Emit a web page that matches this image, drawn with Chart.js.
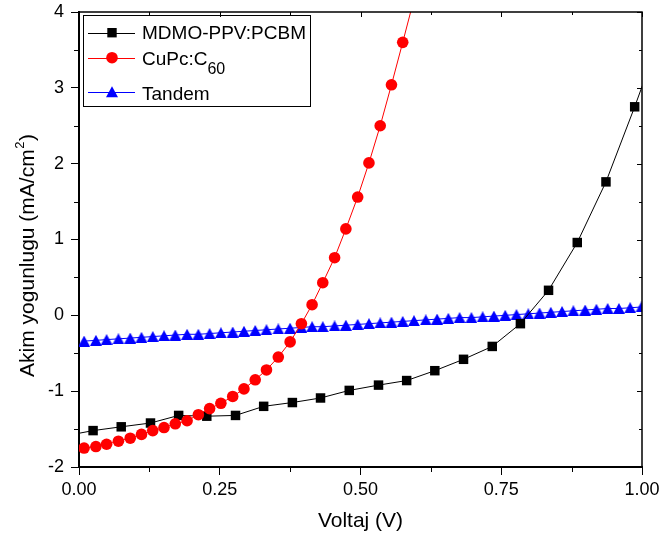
<!DOCTYPE html>
<html>
<head>
	<title>J-V</title>
	<meta charset="utf-8">
<style type="text/css">
	body{ margin:0; background:#fff; }
	#wrap{ width:660px; height:543px; position:relative; }
</style>
</head>
<body>
<div id="wrap">
	<canvas id="jv"></canvas>
</div>

<script src="https://cdn.jsdelivr.net/npm/chart.js@4/dist/chart.umd.min.js"></script>
<script type="text/javascript">

// MDMO-PPV:PCBM (squares); first and last points lie just outside the frame
var vMdmo = [-0.025, 0.025, 0.075, 0.127, 0.177, 0.227, 0.278, 0.328, 0.379, 0.429, 0.480,
             0.532, 0.582, 0.632, 0.683, 0.734, 0.784, 0.834, 0.885, 0.936, 0.987, 1.037];
var jMdmo = [-1.59, -1.52, -1.47, -1.42, -1.32, -1.33, -1.32, -1.20, -1.15, -1.09, -0.99,
             -0.92, -0.86, -0.73, -0.58, -0.41, -0.11, 0.33, 0.96, 1.76, 2.75, 3.77];

// CuPc:C60 (circles)
var vCupc = [0.009, 0.030, 0.049, 0.070, 0.091, 0.111, 0.131, 0.151, 0.171, 0.192,
             0.212, 0.232, 0.252, 0.273, 0.293, 0.313, 0.333, 0.354, 0.375, 0.395,
             0.414, 0.433, 0.454, 0.474, 0.495, 0.515, 0.535, 0.555, 0.575, 0.595];
var jCupc = [-1.75, -1.73, -1.70, -1.66, -1.62, -1.57, -1.52, -1.48, -1.43, -1.39,
             -1.31, -1.23, -1.16, -1.07, -0.97, -0.85, -0.72, -0.55, -0.35, -0.11,
             0.14, 0.43, 0.76, 1.14, 1.56, 2.01, 2.50, 3.04, 3.60, 4.17];

// Tandem (triangles)
var vTandem = [0.009, 0.030, 0.049, 0.070, 0.091, 0.111, 0.131, 0.151, 0.171, 0.192,
               0.212, 0.232, 0.252, 0.273, 0.293, 0.313, 0.333, 0.354, 0.375, 0.395,
               0.414, 0.433, 0.454, 0.474, 0.495, 0.515, 0.535, 0.555, 0.575, 0.595,
               0.616, 0.636, 0.656, 0.676, 0.697, 0.717, 0.737, 0.757, 0.777, 0.798,
               0.818, 0.838, 0.858, 0.878, 0.899, 0.919, 0.939, 0.959, 0.979, 0.999];
var jTandem = [-0.34, -0.33, -0.32, -0.31, -0.30, -0.29, -0.28, -0.27, -0.26, -0.25,
               -0.25, -0.24, -0.23, -0.22, -0.21, -0.20, -0.19, -0.18, -0.17, -0.16,
               -0.15, -0.15, -0.14, -0.13, -0.12, -0.11, -0.10, -0.09, -0.08, -0.07,
               -0.06, -0.05, -0.04, -0.03, -0.03, -0.02, -0.01, 0.00, 0.01, 0.02,
               0.03, 0.04, 0.05, 0.06, 0.07, 0.08, 0.09, 0.09, 0.10, 0.11];

var xTicks = [0, 0.25, 0.5, 0.75, 1];
var yTicks = [-2, -1, 0, 1, 2, 3, 4];

var FONT = "Arial, 'Liberation Sans', sans-serif";

function pts(xs, ys){
	var out = [];
	for (var i = 0; i < xs.length; i++) out.push({x: xs[i], y: ys[i]});
	return out;
}

// Origin style triangle, centred on its box
function triImg(w, h, color){
	var c = document.createElement('canvas');
	c.width = w; c.height = h;
	var g = c.getContext('2d');
	g.fillStyle = color;
	g.beginPath();
	g.moveTo(w / 2, 0);
	g.lineTo(w, h);
	g.lineTo(0, h);
	g.closePath();
	g.fill();
	return c;
}
var blueTri = triImg(12, 11, '#0000ff');

// little marker helpers for the legend
function mark(ctx, style, x, y, color){
	ctx.fillStyle = color;
	ctx.beginPath();
	if (style == 'rect') {
		ctx.rect(x - 4.7, y - 4.7, 9.4, 9.4);
	} else if (style == 'circle') {
		ctx.arc(x, y, 5.8, 0, Math.PI * 2);
	} else {
		ctx.moveTo(x, y - 5.5);
		ctx.lineTo(x + 6, y + 5.5);
		ctx.lineTo(x - 6, y + 5.5);
		ctx.closePath();
	}
	ctx.fill();
}

var frame = {
	id: 'frame',
	afterDraw: function(chart){
		var ctx = chart.ctx, a = chart.chartArea;
		var xs = chart.scales.x, ys = chart.scales.y;
		ctx.save();
		ctx.strokeStyle = '#000';

		// top and right border
		ctx.lineWidth = 1.5;
		ctx.beginPath();
		ctx.moveTo(a.left, a.top); ctx.lineTo(a.right, a.top); ctx.lineTo(a.right, a.bottom);
		ctx.stroke();

		ctx.lineWidth = 1;
		ctx.beginPath();
		var v, p;
		// x minor ticks (outward bottom) + inward top ticks
		for (v = 0; v <= 1.0001; v += 0.125) {
			p = Math.round(xs.getPixelForValue(v)) + 0.5;
			var major = Math.abs(v / 0.25 - Math.round(v / 0.25)) < 1e-6;
			if (!major) { ctx.moveTo(p, a.bottom); ctx.lineTo(p, a.bottom + 5); }
			ctx.moveTo(p, a.top); ctx.lineTo(p, a.top + (major ? 5 : 3));
		}
		// y minor ticks (outward left) + inward right ticks
		for (v = -2; v <= 4.0001; v += 0.5) {
			p = Math.round(ys.getPixelForValue(v)) + 0.5;
			var majorY = Math.abs(v - Math.round(v)) < 1e-6;
			if (!majorY) { ctx.moveTo(a.left, p); ctx.lineTo(a.left - 5, p); }
			ctx.moveTo(a.right, p); ctx.lineTo(a.right - (majorY ? 5 : 3), p);
		}
		ctx.stroke();

		// axis titles
		ctx.fillStyle = '#000';
		ctx.font = '21px ' + FONT;
		ctx.textAlign = 'center';
		ctx.textBaseline = 'middle';
		ctx.fillText('Voltaj (V)', (a.left + a.right) / 2, 521);

		ctx.translate(26, 256);
		ctx.rotate(-Math.PI / 2);
		ctx.textAlign = 'left';
		ctx.textBaseline = 'alphabetic';
		var t1 = 'Akim yogunlugu (mA/cm', t2 = '2', t3 = ')';
		ctx.font = '21px ' + FONT;
		var w1 = ctx.measureText(t1).width, w3 = ctx.measureText(t3).width;
		ctx.font = '13px ' + FONT;
		var w2 = ctx.measureText(t2).width;
		var x0 = -(w1 + w2 + w3) / 2;
		ctx.font = '21px ' + FONT;
		ctx.fillText(t1, x0, 7.5);
		ctx.fillText(t3, x0 + w1 + w2 + 1, 7.5);
		ctx.font = '13px ' + FONT;
		ctx.fillText(t2, x0 + w1 + 0.5, -2.5);
		ctx.restore();

		// legend
		ctx.save();
		ctx.strokeStyle = '#000';
		ctx.lineWidth = 1;
		ctx.strokeRect(83.5, 15.5, 227, 91);
		var rows = [
			{y: 32.7, color: '#000000', style: 'rect'},
			{y: 57.7, color: '#ff0000', style: 'circle'},
			{y: 91.7, color: '#0000ff', style: 'triangle'}
		];
		rows.forEach(function(r){
			ctx.strokeStyle = r.color;
			ctx.beginPath();
			ctx.moveTo(88, Math.round(r.y) + 0.5); ctx.lineTo(135, Math.round(r.y) + 0.5);
			ctx.stroke();
			mark(ctx, r.style, 112, r.y, r.color);
		});
		ctx.fillStyle = '#000';
		ctx.textAlign = 'left';
		ctx.textBaseline = 'alphabetic';
		ctx.font = '19px ' + FONT;
		ctx.fillText('MDMO-PPV:PCBM', 142, 38.5);
		ctx.fillText('CuPc:C', 142, 64.5);
		var wc = ctx.measureText('CuPc:C').width;
		ctx.fillText('Tandem', 142, 99.5);
		ctx.font = '16px ' + FONT;
		ctx.fillText('60', 142 + wc, 73.5);
		ctx.restore();
	}
};

var ctx = document.getElementById('jv').getContext('2d');
window.jv = new Chart(ctx, {
	type: 'line',
	data: {
		datasets: [
			{
				label: 'CuPc:C60',
				data: pts(vCupc, jCupc),
				borderColor: '#ff0000',
				backgroundColor: '#ff0000',
				borderWidth: 1,
				pointStyle: 'circle',
				pointRadius: 5.8,
				pointBorderWidth: 0,
				order: 0
			},
			{
				label: 'MDMO-PPV:PCBM',
				data: pts(vMdmo, jMdmo),
				borderColor: '#000000',
				backgroundColor: '#000000',
				borderWidth: 1,
				pointStyle: 'rect',
				pointRadius: 6.7,
				pointBorderWidth: 0,
				order: 1
			},
			{
				label: 'Tandem',
				data: pts(vTandem, jTandem),
				borderColor: '#0000ff',
				backgroundColor: '#0000ff',
				borderWidth: 1,
				pointStyle: blueTri,
				pointRadius: 6,
				pointBorderWidth: 0,
				order: 2
			}
		]
	},
	options: {
		responsive: true,
		maintainAspectRatio: false,
		animation: false,
		layout: { padding: { left: 0, top: 12, right: 18, bottom: 0 } },
		plugins: {
			legend: { display: false },
			tooltip: { enabled: false }
		},
		elements: { line: { tension: 0 } },
		scales: {
			x: {
				type: 'linear',
				min: 0, max: 1,
				afterFit: function(s){
					s.height = 76;
					s.paddingLeft = 0; s.paddingRight = 0;
				},
				afterBuildTicks: function(s){ s.ticks = xTicks.map(function(v){ return {value: v}; }); },
				ticks: {
					color: '#000',
					font: { family: FONT, size: 18 },
					padding: 4,
					maxRotation: 0,
					callback: function(v){ return Number(v).toFixed(2); }
				},
				grid: { drawOnChartArea: false, drawTicks: true, tickLength: 8, color: '#000', lineWidth: 1 },
				border: { display: true, color: '#000', width: 2 }
			},
			y: {
				type: 'linear',
				min: -2, max: 4,
				afterFit: function(s){
					s.width = 79;
					s.paddingTop = 0; s.paddingBottom = 0;
				},
				afterBuildTicks: function(s){ s.ticks = yTicks.map(function(v){ return {value: v}; }); },
				ticks: {
					color: '#000',
					font: { family: FONT, size: 18 },
					padding: 7,
					callback: function(v){ return String(v); }
				},
				grid: { drawOnChartArea: false, drawTicks: true, tickLength: 8, color: '#000', lineWidth: 1 },
				border: { display: true, color: '#000', width: 2 }
			}
		}
	},
	plugins: [frame]
});

</script>
</body>
</html>
